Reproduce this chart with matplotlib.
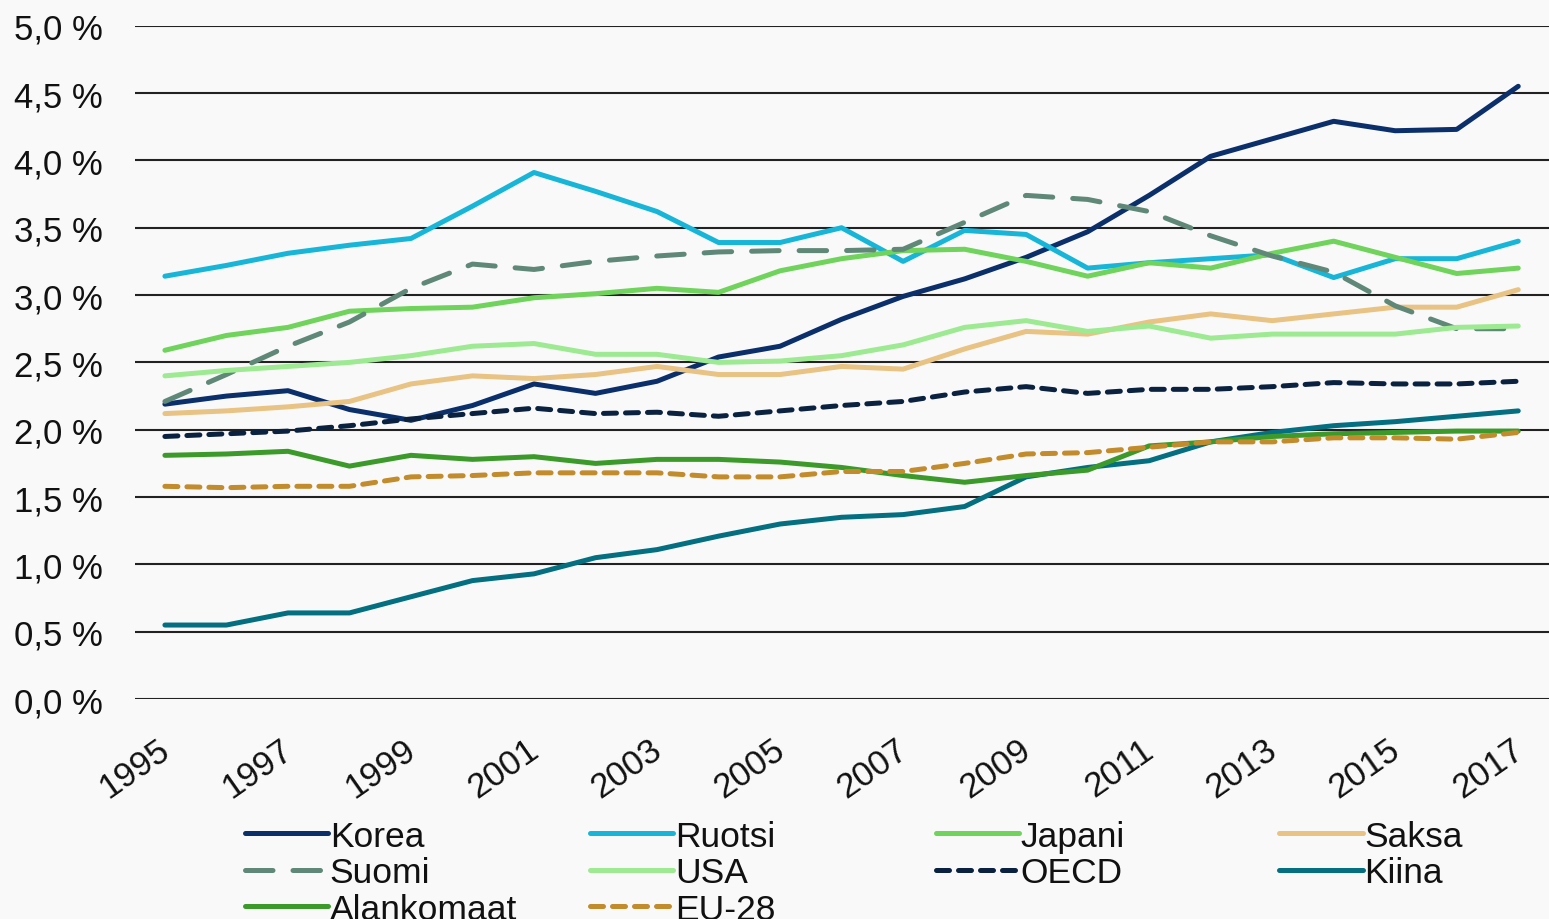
import matplotlib.pyplot as plt
import matplotlib.transforms as mtransforms
from matplotlib.ticker import FuncFormatter

plt.rcParams['font.family'] = ['Liberation Sans', 'DejaVu Sans']

years = list(range(1995, 2018))

korea = [2.19, 2.25, 2.29, 2.15, 2.07, 2.18, 2.34, 2.27, 2.36, 2.54, 2.62, 2.82,
         2.99, 3.12, 3.28, 3.47, 3.74, 4.03, 4.16, 4.29, 4.22, 4.23, 4.55]
ruotsi = [3.14, 3.22, 3.31, 3.37, 3.42, 3.66, 3.91, 3.77, 3.62, 3.39, 3.39, 3.50,
          3.25, 3.48, 3.45, 3.20, 3.24, 3.27, 3.30, 3.13, 3.27, 3.27, 3.40]
japani = [2.59, 2.70, 2.76, 2.88, 2.90, 2.91, 2.98, 3.01, 3.05, 3.02, 3.18, 3.27,
          3.33, 3.34, 3.25, 3.14, 3.24, 3.20, 3.31, 3.40, 3.28, 3.16, 3.20]
saksa = [2.12, 2.14, 2.17, 2.21, 2.34, 2.40, 2.38, 2.41, 2.47, 2.41, 2.41, 2.47,
         2.45, 2.60, 2.73, 2.71, 2.80, 2.86, 2.81, 2.86, 2.91, 2.91, 3.04]
suomi = [2.21, 2.41, 2.62, 2.80, 3.05, 3.23, 3.19, 3.25, 3.29, 3.32, 3.33, 3.33,
         3.34, 3.54, 3.74, 3.71, 3.62, 3.44, 3.29, 3.17, 2.92, 2.75, 2.75]
usa = [2.40, 2.44, 2.47, 2.50, 2.55, 2.62, 2.64, 2.56, 2.56, 2.50, 2.51, 2.55,
       2.63, 2.76, 2.81, 2.73, 2.77, 2.68, 2.71, 2.71, 2.71, 2.76, 2.77]
oecd = [1.95, 1.97, 1.99, 2.03, 2.08, 2.12, 2.16, 2.12, 2.13, 2.10, 2.14, 2.18,
        2.21, 2.28, 2.32, 2.27, 2.30, 2.30, 2.32, 2.35, 2.34, 2.34, 2.36]
kiina = [0.55, 0.55, 0.64, 0.64, 0.76, 0.88, 0.93, 1.05, 1.11, 1.21, 1.30, 1.35,
         1.37, 1.43, 1.65, 1.72, 1.77, 1.91, 1.98, 2.03, 2.06, 2.10, 2.14]
alankomaat = [1.81, 1.82, 1.84, 1.73, 1.81, 1.78, 1.80, 1.75, 1.78, 1.78, 1.76, 1.72,
              1.66, 1.61, 1.66, 1.70, 1.88, 1.91, 1.95, 1.97, 1.98, 1.99, 1.99]
eu28 = [1.58, 1.57, 1.58, 1.58, 1.65, 1.66, 1.68, 1.68, 1.68, 1.65, 1.65, 1.69,
        1.69, 1.75, 1.82, 1.83, 1.87, 1.91, 1.91, 1.94, 1.94, 1.93, 1.98]

# nimi, data, väri, viivatyyli
series = [
    ("Korea", korea, "#0b2f6b", "-"),
    ("Ruotsi", ruotsi, "#17b6d8", "-"),
    ("Japani", japani, "#6fd35c", "-"),
    ("Saksa", saksa, "#e8c383", "-"),
    ("Suomi", suomi, "#5f8878", (0, (5.5, 4))),
    ("USA", usa, "#9dea92", "-"),
    ("OECD", oecd, "#0a2240", (0, (2.6, 1.8))),
    ("Kiina", kiina, "#036f80", "-"),
    ("Alankomaat", alankomaat, "#3c9a2b", "-"),
    ("EU-28", eu28, "#c28b2c", (0, (2.6, 1.8))),
]

bg = "#f9f9f9"
fig = plt.figure(figsize=(15.49, 9.20), dpi=100, facecolor=bg)
ax = fig.add_axes([0.087, 0.239, 0.913, 0.732], facecolor=bg)

lines = {}
for name, vals, color, ls in series:
    ln, = ax.plot(years, vals, color=color, linestyle=ls, linewidth=3.6,
                  solid_capstyle="round", dash_capstyle="round", label=name)
    lines[name] = ln

ax.set_xlim(1994.51, 2017.5)
ax.set_ylim(0, 5.0)
ax.set_yticks([i * 0.5 for i in range(11)])
ax.yaxis.set_major_formatter(FuncFormatter(lambda v, p: f"{v:.1f} %".replace(".", ",")))
ax.set_xticks(years[::2])
ax.set_xticklabels([str(y) for y in years[::2]], rotation=35, ha="right",
                   va="top", rotation_mode="anchor")
ax.tick_params(axis="both", length=0, labelsize=25, colors="#111111")
ax.tick_params(axis="y", pad=23)
ax.tick_params(axis="x", pad=24)
shift = mtransforms.ScaledTranslation(-8 / 100, 0, fig.dpi_scale_trans)
for lbl in ax.get_xticklabels():
    lbl.set_transform(lbl.get_transform() + shift)

ax.grid(axis="y", color="#222222", linewidth=1.5)
ax.set_axisbelow(True)
for s in ax.spines.values():
    s.set_visible(False)

# legenda neljässä sarakkeessa, tasaväliset sarakkeet
columns = [["Korea", "Suomi", "Alankomaat"], ["Ruotsi", "USA", "EU-28"],
           ["Japani", "OECD"], ["Saksa", "Kiina"]]
col_x = [0.158, 0.381, 0.604, 0.826]
for cx, names in zip(col_x, columns):
    leg = fig.legend([lines[n] for n in names], names, loc="upper left",
                     bbox_to_anchor=(cx, 0.108), frameon=False, fontsize=25.5,
                     handlelength=2.35, handletextpad=0.05, labelspacing=0.1,
                     borderpad=0, borderaxespad=0)
    for t in leg.get_texts():
        t.set_color("#111111")

fig.savefig("out.png", dpi=100, facecolor=bg)
